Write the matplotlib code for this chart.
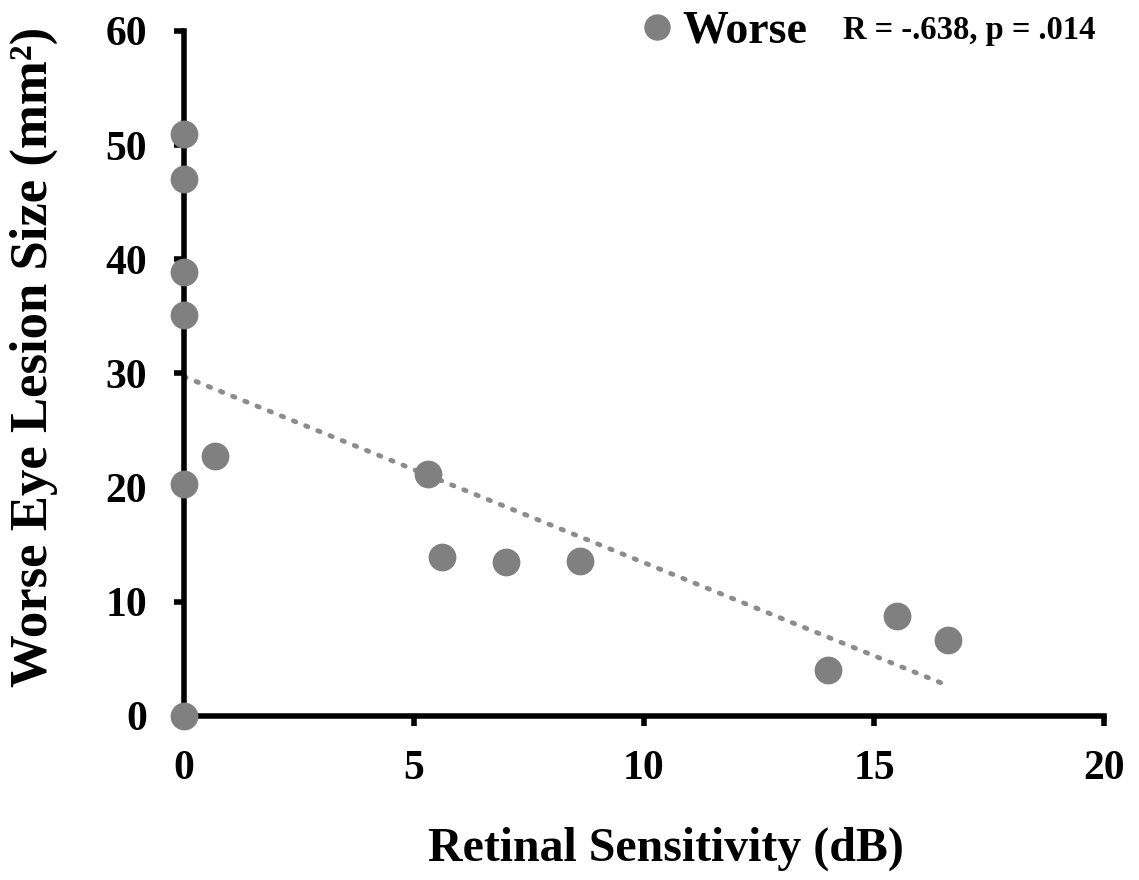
import numpy as np
import matplotlib.pyplot as plt

# retinal sensitivity (dB) vs worse eye lesion size (mm2)
sens = [0, 0, 0, 0, 0, 0, 0.67, 5.3, 5.6, 7.0, 8.6, 14.0, 15.5, 16.6]
lesion = [51.0, 47.0, 38.9, 35.1, 20.3, 0.0, 22.8, 21.2, 13.9, 13.5, 13.6, 4.0, 8.8, 6.65]
xticks = [0, 5, 10, 15, 20]
yticks = [0, 10, 20, 30, 40, 50, 60]
stat_text = "R = -.638, p = .014"

plt.rcParams['font.family'] = ['Liberation Serif', 'DejaVu Serif']
plt.rcParams['font.weight'] = 'bold'

fig = plt.figure(figsize=(11.39, 8.8), dpi=100)
ax = fig.add_axes([0.1615, 0.1864, 0.8078, 0.7784])

# linear fit
m, b = np.polyfit(sens, lesion, 1)
xs = np.array([0, max(sens)])
ax.plot(xs, m * xs + b, ls=(0, (0.5, 2.2)), lw=3.5, color='#8c8c8c',
        dash_capstyle='round', zorder=2)

ax.plot(sens, lesion, 'o', ms=20, color='#808080', mec='none',
        clip_on=False, zorder=3, label='Worse')

ax.set_xlim(0, 20)
ax.set_ylim(0, 60)
ax.set_xticks(xticks)
ax.set_yticks(yticks)
ax.tick_params(labelsize=30, width=4, length=7.5, direction='out')
ax.tick_params(axis='x', pad=17)
ax.tick_params(axis='y', pad=19)
for lab in ax.get_xticklabels() + ax.get_yticklabels():
    lab.set_fontweight('bold')

for s in ['top', 'right']:
    ax.spines[s].set_visible(False)
for s in ['left', 'bottom']:
    ax.spines[s].set_linewidth(4)

ax.set_xlabel('Retinal Sensitivity (dB)', fontsize=34.5, fontweight='bold')
ax.set_ylabel('Worse Eye Lesion Size (mm²)', fontsize=38, fontweight='bold')
ax.xaxis.set_label_coords(0.524, -0.162)
ax.yaxis.set_label_coords(-0.137, 0.524)

leg = fig.legend(loc='center left', bbox_to_anchor=(0.5628, 0.964), frameon=False,
                 handlelength=0.7, handletextpad=0.2, borderpad=0, borderaxespad=0,
                 markerscale=0.95, prop={'weight': 'bold', 'size': 33})
fig.text(0.740, 0.965, stat_text, fontsize=23.5, fontweight='bold', va='center')

fig.savefig('out.png', dpi=100)
